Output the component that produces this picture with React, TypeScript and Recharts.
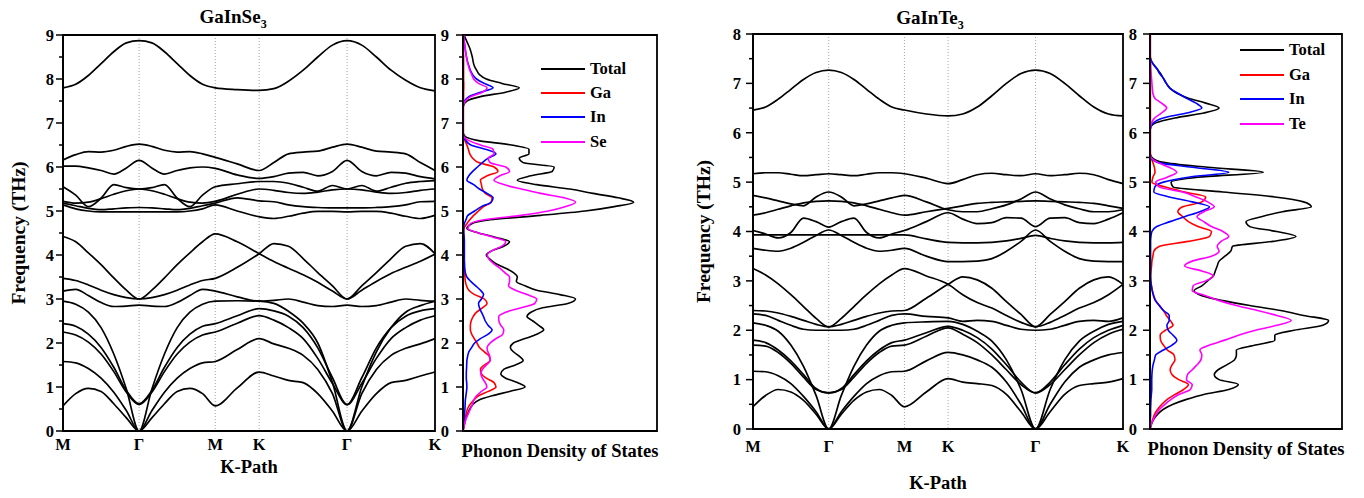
import { LineChart, Line, XAxis, YAxis, CartesianGrid, ReferenceArea, Legend } from "recharts"

const FONT = "'Liberation Serif', 'Times New Roman', serif"

// k-path samples (units of |ΓM|): M-Γ-M-K-Γ-K
const kPath = [0, 0.167, 0.333, 0.5, 0.667, 0.833, 1, 1.167, 1.333, 1.5, 1.667, 1.833, 2, 2.289, 2.577, 2.77, 2.962, 3.155, 3.347, 3.54, 3.732, 3.925, 4.117, 4.31, 4.502, 4.695, 4.887]
const kTicks = [0, 1, 2, 2.577, 3.732, 4.887]
const kLabels = ["M", "Γ", "M", "K", "Γ", "K"]

// GaInSe3 phonon branches (THz) at the kPath samples
const seBands = [
  [7.8, 7.88, 8.08, 8.35, 8.62, 8.82, 8.87, 8.82, 8.62, 8.35, 8.08, 7.88, 7.8, 7.76, 7.74, 7.78, 7.95, 8.2, 8.5, 8.77, 8.87, 8.77, 8.5, 8.2, 7.97, 7.8, 7.73],
  [6.16, 6.28, 6.35, 6.34, 6.38, 6.47, 6.52, 6.47, 6.38, 6.34, 6.35, 6.3, 6.22, 6.07, 5.92, 6.1, 6.3, 6.34, 6.36, 6.45, 6.52, 6.45, 6.36, 6.34, 6.3, 6.1, 5.92],
  [6.02, 6.02, 5.98, 5.92, 5.84, 5.98, 6.15, 5.98, 5.84, 5.92, 5.98, 6.0, 5.97, 5.82, 5.74, 5.78, 5.86, 5.88, 5.8, 5.9, 6.15, 5.9, 5.8, 5.88, 5.86, 5.78, 5.73],
  [5.55, 5.36, 5.1, 5.29, 5.6, 5.53, 5.5, 5.53, 5.6, 5.29, 5.1, 5.36, 5.55, 5.62, 5.67, 5.67, 5.63, 5.54, 5.45, 5.58, 5.5, 5.58, 5.45, 5.54, 5.63, 5.67, 5.69],
  [5.22, 5.18, 5.2, 5.28, 5.38, 5.46, 5.5, 5.46, 5.38, 5.28, 5.2, 5.18, 5.22, 5.38, 5.5, 5.47, 5.42, 5.4, 5.43, 5.48, 5.5, 5.48, 5.43, 5.4, 5.42, 5.47, 5.5],
  [5.18, 5.12, 5.06, 5.03, 5.05, 5.07, 5.08, 5.07, 5.05, 5.03, 5.06, 5.12, 5.18, 5.3, 5.23, 5.21, 5.14, 5.1, 5.08, 5.07, 5.07, 5.07, 5.08, 5.1, 5.14, 5.21, 5.22],
  [5.14, 5.05, 5.0, 4.98, 4.98, 4.98, 4.98, 4.98, 4.98, 4.98, 5.0, 5.05, 5.14, 5.0, 4.87, 4.83, 4.88, 4.95, 4.99, 4.99, 4.98, 4.99, 4.99, 4.95, 4.88, 4.83, 4.9],
  [4.42, 4.3, 4.05, 3.78, 3.48, 3.2, 3.0, 3.2, 3.48, 3.78, 4.05, 4.3, 4.48, 4.3, 4.03, 3.85, 3.7, 3.55, 3.38, 3.18, 3.0, 3.2, 3.4, 3.58, 3.72, 3.86, 4.02],
  [3.47, 3.42, 3.32, 3.2, 3.1, 3.03, 3.0, 3.03, 3.1, 3.2, 3.32, 3.42, 3.47, 3.72, 4.03, 4.26, 4.2, 3.92, 3.6, 3.3, 3.0, 3.3, 3.6, 3.92, 4.2, 4.26, 4.03],
  [3.18, 3.22, 3.08, 2.92, 2.83, 2.84, 2.86, 2.84, 2.83, 2.92, 3.08, 3.22, 3.18, 3.05, 2.95, 2.97, 3.0, 2.93, 2.85, 2.83, 2.86, 2.83, 2.85, 2.93, 3.0, 2.97, 2.95],
  [2.95, 2.88, 2.7, 2.35, 1.75, 0.95, 0, 0.95, 1.75, 2.35, 2.7, 2.88, 2.95, 2.96, 2.95, 2.9, 2.72, 2.45, 2.0, 1.1, 0, 1.0, 1.8, 2.35, 2.7, 2.85, 2.95],
  [2.44, 2.38, 2.2, 1.9, 1.45, 0.92, 0.62, 0.92, 1.45, 1.9, 2.2, 2.38, 2.44, 2.62, 2.78, 2.73, 2.61, 2.35, 1.89, 1.21, 0.6, 1.21, 1.89, 2.35, 2.61, 2.73, 2.78],
  [2.25, 2.18, 2.02, 1.75, 1.35, 0.88, 0.6, 0.88, 1.35, 1.75, 2.02, 2.18, 2.25, 2.45, 2.62, 2.52, 2.35, 2.1, 1.65, 1.08, 0.6, 1.08, 1.65, 2.1, 2.35, 2.52, 2.62],
  [1.58, 1.55, 1.42, 1.2, 0.88, 0.46, 0, 0.46, 0.88, 1.2, 1.42, 1.55, 1.58, 1.85, 2.1, 1.98, 1.88, 1.72, 1.4, 0.85, 0, 0.85, 1.4, 1.72, 1.88, 1.98, 2.1],
  [0.57, 0.85, 0.97, 0.9, 0.62, 0.3, 0, 0.3, 0.62, 0.9, 0.97, 0.85, 0.57, 0.98, 1.34, 1.25, 1.15, 1.1, 0.85, 0.45, 0, 0.45, 0.85, 1.1, 1.15, 1.25, 1.34],
]

// GaInTe3 phonon branches (THz)
const teBands = [
  [6.46, 6.52, 6.68, 6.88, 7.08, 7.22, 7.27, 7.22, 7.08, 6.88, 6.68, 6.52, 6.46, 6.38, 6.34, 6.38, 6.52, 6.75, 7.0, 7.2, 7.27, 7.2, 7.0, 6.75, 6.52, 6.38, 6.34],
  [5.17, 5.19, 5.19, 5.16, 5.13, 5.15, 5.17, 5.15, 5.13, 5.16, 5.19, 5.19, 5.17, 5.08, 4.97, 5.05, 5.15, 5.18, 5.15, 5.13, 5.17, 5.13, 5.15, 5.18, 5.15, 5.05, 4.97],
  [4.73, 4.68, 4.62, 4.56, 4.52, 4.7, 4.8, 4.7, 4.52, 4.56, 4.62, 4.68, 4.73, 4.6, 4.44, 4.4, 4.4, 4.46, 4.54, 4.66, 4.8, 4.66, 4.54, 4.46, 4.4, 4.4, 4.44],
  [4.33, 4.38, 4.45, 4.52, 4.58, 4.61, 4.62, 4.61, 4.58, 4.52, 4.45, 4.38, 4.33, 4.4, 4.47, 4.52, 4.57, 4.59, 4.6, 4.61, 4.62, 4.61, 4.6, 4.59, 4.57, 4.52, 4.47],
  [4.02, 3.95, 3.87, 3.98, 4.27, 4.2, 4.09, 4.2, 4.27, 3.98, 3.87, 3.95, 4.02, 4.2, 4.38, 4.25, 4.16, 4.18, 4.28, 4.27, 4.1, 4.27, 4.28, 4.18, 4.16, 4.25, 4.38],
  [3.66, 3.62, 3.6, 3.66, 3.78, 3.92, 4.03, 3.92, 3.78, 3.66, 3.6, 3.62, 3.66, 3.5, 3.39, 3.39, 3.4, 3.45, 3.6, 3.8, 4.03, 3.8, 3.6, 3.45, 3.4, 3.39, 3.39],
  [3.93, 3.93, 3.93, 3.93, 3.93, 3.93, 3.93, 3.93, 3.93, 3.93, 3.93, 3.93, 3.93, 3.85, 3.78, 3.77, 3.77, 3.78, 3.81, 3.86, 3.92, 3.86, 3.81, 3.78, 3.77, 3.77, 3.78],
  [3.25, 3.12, 2.94, 2.72, 2.48, 2.24, 2.07, 2.24, 2.48, 2.72, 2.94, 3.12, 3.25, 3.1, 2.93, 2.72, 2.56, 2.45, 2.3, 2.16, 2.07, 2.16, 2.3, 2.45, 2.56, 2.72, 2.93],
  [2.4, 2.39, 2.35, 2.28, 2.2, 2.12, 2.07, 2.12, 2.2, 2.28, 2.35, 2.39, 2.4, 2.65, 2.93, 3.08, 3.02, 2.85, 2.58, 2.32, 2.07, 2.32, 2.58, 2.85, 3.02, 3.08, 2.93],
  [2.33, 2.3, 2.2, 2.1, 2.02, 2.0, 2.0, 2.0, 2.02, 2.1, 2.2, 2.3, 2.33, 2.28, 2.25, 2.18, 2.2, 2.18, 2.1, 2.02, 2.0, 2.02, 2.1, 2.18, 2.2, 2.18, 2.25],
  [2.15, 2.1, 1.98, 1.7, 1.27, 0.68, 0, 0.68, 1.27, 1.7, 1.98, 2.1, 2.15, 2.17, 2.18, 2.12, 1.98, 1.78, 1.4, 0.8, 0, 0.8, 1.4, 1.78, 1.98, 2.12, 2.18],
  [1.8, 1.75, 1.6, 1.38, 1.1, 0.82, 0.73, 0.82, 1.1, 1.38, 1.6, 1.75, 1.8, 1.95, 2.08, 2.0, 1.85, 1.62, 1.3, 0.95, 0.73, 0.95, 1.3, 1.62, 1.85, 2.0, 2.1],
  [1.7, 1.68, 1.55, 1.33, 1.05, 0.8, 0.73, 0.8, 1.05, 1.33, 1.55, 1.68, 1.7, 1.88, 2.05, 1.92, 1.75, 1.5, 1.2, 0.9, 0.73, 0.9, 1.2, 1.5, 1.75, 1.92, 2.02],
  [1.17, 1.16, 1.08, 0.92, 0.66, 0.35, 0, 0.35, 0.66, 0.92, 1.08, 1.16, 1.17, 1.38, 1.55, 1.5, 1.4, 1.25, 0.95, 0.5, 0, 0.5, 0.95, 1.25, 1.4, 1.5, 1.55],
  [0.45, 0.68, 0.8, 0.75, 0.58, 0.3, 0, 0.3, 0.58, 0.75, 0.8, 0.68, 0.45, 0.75, 1.02, 0.95, 0.92, 0.88, 0.7, 0.35, 0, 0.35, 0.7, 0.88, 0.92, 0.95, 1.02],
]

// phonon DOS, GaInSe3 (arb. units), sampled every 0.1 THz
const seFreq = [
  0, 0.1, 0.2, 0.3, 0.4, 0.5, 0.6, 0.7, 0.8, 0.9,
  1, 1.1, 1.2, 1.3, 1.4, 1.5, 1.6, 1.7, 1.8, 1.9,
  2, 2.1, 2.2, 2.3, 2.4, 2.5, 2.6, 2.7, 2.8, 2.9,
  3, 3.1, 3.2, 3.3, 3.4, 3.5, 3.6, 3.7, 3.8, 3.9,
  4, 4.1, 4.2, 4.3, 4.4, 4.5, 4.6, 4.7, 4.8, 4.9,
  5, 5.1, 5.2, 5.3, 5.4, 5.5, 5.6, 5.7, 5.8, 5.9,
  6, 6.1, 6.2, 6.3, 6.4, 6.5, 6.6, 6.7, 6.8, 6.9,
  7, 7.1, 7.2, 7.3, 7.4, 7.5, 7.6, 7.7, 7.8, 7.9,
  8, 8.1, 8.2, 8.3, 8.4, 8.5, 8.6, 8.7, 8.8, 8.9,
  9,
]
const seTotal = [
  0, 0.5, 1, 1.5, 2.5, 3.5, 5, 8, 15, 24,
  32, 28, 22, 19.5, 21, 27, 31, 29, 26, 24.4,
  26, 32, 38, 41.6, 39, 36, 33, 35, 41, 54,
  58, 50, 38, 32, 27.5, 28, 26, 22, 17, 14,
  12, 15, 21, 24, 17, 8, 2, 4, 14, 40,
  63, 78, 88, 80, 67, 55, 38, 28, 35, 46,
  47, 31, 29, 34, 34, 25, 8, 1, 0, 0,
  0, 0, 0, 0, 0.3, 2, 9, 22, 29, 20,
  12, 8.5, 7, 5.8, 5.2, 4.8, 4.2, 3.5, 2.5, 1.5,
  0.5,
]
const seGa = [
  0, 0.3, 0.7, 1.2, 1.7, 2.3, 3.5, 5.5, 8, 13,
  17, 16, 12, 9.5, 9, 11, 14, 13.5, 11, 8.5,
  7.2, 5.8, 4.5, 3.8, 3.8, 4.2, 5.2, 7, 10, 12.4,
  11, 6, 3, 1.8, 1.2, 1, 0.8, 0.7, 0.6, 0.6,
  0.6, 0.6, 0.6, 0.6, 0.5, 0.3, 0.5, 1.8, 3.5, 5.5,
  8, 10.6, 14.5, 15, 11.5, 10, 9.5, 9, 12.5, 18,
  16, 8, 5, 3.5, 2.8, 2, 1, 0.3, 0.2, 0.2,
  0.2, 0.2, 0.2, 0.2, 0.2, 0.3, 0.3, 0.3, 0.4, 0.4,
  0.3, 0.3, 0.3, 0.3, 0.3, 0.3, 0.2, 0.2, 0.2, 0.2,
  0.2,
]
const seIn = [
  0, 0.2, 0.4, 0.6, 0.8, 1, 1.1, 1.2, 1.5, 1.8,
  2, 1.9, 1.7, 1.7, 1.8, 1.9, 2, 2.4, 3, 4.5,
  6, 9, 13, 15, 13, 11.5, 10.6, 9.5, 8.5, 8,
  9.5, 10.6, 9, 6.5, 4, 2, 1.2, 0.9, 0.8, 0.7,
  0.7, 0.7, 0.7, 0.7, 0.6, 0.4, 0.3, 0.6, 1.5, 2.5,
  6, 9.5, 14.5, 15.5, 12.4, 8.5, 5.5, 2, 3, 5,
  7.5, 10, 13, 17, 12, 4, 1.5, 0.3, 0, 0,
  0, 0, 0, 0, 0, 0.8, 3, 9, 15.5, 11,
  7, 5, 3.8, 3, 2.3, 1.8, 1.4, 1.1, 0.8, 0.5,
  0.3,
]
const seSe = [
  0, 0.5, 1, 1.8, 2.8, 3.8, 4.8, 5.5, 7, 9.5,
  12.3, 11.5, 10, 9.2, 10, 12, 14, 13.8, 12.8, 12.4,
  14, 17, 20.5, 21, 19.5, 18.5, 18.4, 22, 30, 37,
  38, 33, 27, 23.5, 24, 24, 21.5, 19, 16, 13.5,
  12.5, 15, 20, 22, 16, 8, 2.5, 3.5, 11, 30,
  44, 53, 58, 52, 40, 30, 21, 16, 19, 24,
  22, 14, 13, 16, 15.5, 9, 3, 0.3, 0, 0,
  0, 0, 0, 0, 0.2, 1.2, 4, 10, 12.4, 8,
  5.5, 4.5, 3.5, 2.8, 2.2, 1.8, 1.4, 1.1, 0.8, 0.5,
  0.3,
]

// phonon DOS, GaInTe3
const teFreq = [
  0, 0.1, 0.2, 0.3, 0.4, 0.5, 0.6, 0.7, 0.8, 0.9,
  1, 1.1, 1.2, 1.3, 1.4, 1.5, 1.6, 1.7, 1.8, 1.9,
  2, 2.1, 2.2, 2.3, 2.4, 2.5, 2.6, 2.7, 2.8, 2.9,
  3, 3.1, 3.2, 3.3, 3.4, 3.5, 3.6, 3.7, 3.8, 3.9,
  4, 4.1, 4.2, 4.3, 4.4, 4.5, 4.6, 4.7, 4.8, 4.9,
  5, 5.1, 5.2, 5.3, 5.4, 5.5, 5.6, 5.7, 5.8, 5.9,
  6, 6.1, 6.2, 6.3, 6.4, 6.5, 6.6, 6.7, 6.8, 6.9,
  7, 7.1, 7.2, 7.3, 7.4, 7.5, 7.6, 7.7, 7.8, 7.9,
  8,
]
const teTotal = [
  0, 0.8, 2, 4, 7, 12, 19, 28, 41, 46,
  36, 33.5, 35.5, 40, 44, 45, 45, 55, 65, 65,
  75, 90, 93, 80, 68, 52, 38, 27, 23, 27,
  30, 33, 34, 35, 36, 39, 42, 43, 64, 76,
  66, 52, 50, 58, 69, 84, 80, 65, 38, 12,
  11, 25, 59, 30, 7, 1, 0, 0, 0, 0,
  0, 0.2, 3, 13, 28, 36, 29, 20, 14, 10.5,
  8.5, 7, 5.5, 3.5, 1.5, 0.3, 0, 0, 0, 0,
  0,
]
const teGa = [
  0, 0.7, 1.5, 2.4, 4, 6.2, 9, 13, 17.5, 20,
  15, 11.5, 10.5, 11.5, 13, 12.5, 9, 7, 5.5, 5.3,
  8, 12, 10.5, 8.5, 7, 5, 3, 2, 1.2, 0.8,
  0.4, 0.3, 0.5, 0.8, 1, 1.5, 2, 5, 20, 31,
  32, 25, 20, 17, 14.5, 17, 27, 29, 18, 8,
  1, 1.5, 2.6, 2.3, 1.5, 0.5, 0.2, 0.2, 0.2, 0.2,
  0.2, 0.2, 0.2, 0.2, 0.2, 0.2, 0.2, 0.2, 0.2, 0.2,
  0.2, 0.2, 0.2, 0.2, 0.2, 0.2, 0.2, 0.2, 0.2, 0.2,
  0.2,
]
const teIn = [
  0, 0.1, 0.2, 0.3, 0.3, 0.4, 0.5, 0.7, 0.9, 0.9,
  0.9, 1, 1.2, 1.6, 2.3, 3, 7, 11.5, 14, 12,
  9.5, 8.8, 10, 10, 7, 4.8, 2.8, 1.8, 1.2, 0.7,
  0.4, 0.3, 0.3, 0.3, 0.3, 0.3, 0.3, 0.3, 0.3, 0.5,
  1, 3.5, 10.4, 18, 26, 31, 22, 10, 2, 2.5,
  7, 20, 41, 22, 4, 0.5, 0, 0, 0, 0,
  0, 0.3, 1.7, 6.9, 19, 27, 24, 19, 14.5, 10.4,
  8.5, 7, 5, 3.6, 1.5, 0.2, 0, 0, 0, 0,
  0,
]
const teTe = [
  0, 0.7, 1.8, 3.2, 5, 7.8, 11, 15, 21, 22,
  19, 19.5, 22, 24.5, 26.5, 27, 26, 31, 39, 46,
  55, 66, 73.5, 66, 56, 45, 36, 29, 22, 22.5,
  29, 33, 27, 18, 22, 32, 36, 35, 37, 41,
  38, 32, 28, 24.5, 28, 33.5, 30, 24, 17, 5,
  3, 9, 13.9, 10, 4, 0.5, 0, 0, 0, 0,
  0, 0.2, 0.8, 2.5, 6, 8.7, 6, 2.5, 1.5, 1.2,
  1, 0.8, 0.6, 0.4, 0.3, 0.1, 0, 0, 0, 0,
  0,
]

const seYTicks = [0, 0.5, 1, 1.5, 2, 2.5, 3, 3.5, 4, 4.5, 5, 5.5, 6, 6.5, 7, 7.5, 8, 8.5, 9]
const teYTicks = [0, 0.5, 1, 1.5, 2, 2.5, 3, 3.5, 4, 4.5, 5, 5.5, 6, 6.5, 7, 7.5, 8]

const dosKeys = ["total", "ga", "in", "el"]
const dosColors = ["#000000", "#ff0000", "#0000ff", "#ff00ff"]
const seLegend = ["Total", "Ga", "In", "Se"]
const teLegend = ["Total", "Ga", "In", "Te"]

const boldText = { fontFamily: FONT, fontWeight: "bold" as const, fill: "#000" }

const FreqTick = (props: any) => {
  const { x, y, payload, gap } = props
  const major = Number.isInteger(payload.value)
  return (
    <g>
      <line x1={x - (major ? 7 : 4)} x2={x} y1={y} y2={y} stroke="#000" strokeWidth={1.5} />
      {major && (
        <text x={x - gap} y={y} dy="0.35em" textAnchor="end" fontSize={16.5} {...boldText}>
          {payload.value}
        </text>
      )}
    </g>
  )
}

const PathTick = (props: any) => {
  const { x, y, index, dy } = props
  return (
    <text x={x} y={y + dy} dy="0.35em" textAnchor="middle" fontSize={16.5} {...boldText}>
      {kLabels[index]}
    </text>
  )
}

const Title = ({ text, cx, cy }: { text: string; cx: number; cy: number }) => (
  <div
    style={{
      position: "absolute", left: cx - 100, top: cy - 12, width: 200, height: 24, lineHeight: "24px",
      textAlign: "center", fontFamily: FONT, fontWeight: "bold", fontSize: 19, color: "#000",
    }}
  >
    {text}
    <span style={{ fontSize: 12, position: "relative", top: 5 }}>3</span>
  </div>
)

function BandPanel(props: any) {
  const { left, bands, yMax, yTicks, mTop, mRight, xAxisHeight, tickGap, pathDy, pathLabelOffset, freqLabelOffset } = props
  const rows = kPath.map((k, i) => {
    const r: Record<string, number> = { k }
    bands.forEach((b: number[], j: number) => { r["b" + j] = b[i] })
    return r
  })
  return (
    <div style={{ position: "absolute", left, top: 0 }}>
      <LineChart width={450} height={498} data={rows} margin={{ top: mTop, right: mRight, bottom: 0, left: 0 }}>
        <CartesianGrid horizontal={false} stroke="#8c8c8c" strokeDasharray="1 2" strokeWidth={0.8} />
        <XAxis
          dataKey="k" type="number" domain={[0, 4.887]} ticks={kTicks} interval={0}
          height={xAxisHeight} tickSize={0} tickMargin={0} tickLine={false}
          axisLine={{ stroke: "#000", strokeWidth: 1.8 }}
          tick={(p: any) => <PathTick {...p} dy={pathDy} />}
          label={{ value: "K-Path", position: "insideTop", offset: pathLabelOffset, fontSize: 18.5, ...boldText }}
        />
        <YAxis
          type="number" domain={[0, yMax]} ticks={yTicks} interval={0} width={63}
          tickSize={0} tickMargin={0} tickLine={false}
          axisLine={{ stroke: "#000", strokeWidth: 1.8 }}
          tick={(p: any) => <FreqTick {...p} gap={tickGap} />}
          label={{
            value: "Frequency (THz)", angle: -90, position: "insideLeft", offset: freqLabelOffset,
            fontSize: 19.5, style: { textAnchor: "middle" }, ...boldText,
          }}
        />
        <ReferenceArea x1={0} x2={4.887} y1={0} y2={yMax} fill="none" stroke="#000" strokeWidth={1.8} />
        {bands.map((_: number[], j: number) => (
          <Line
            key={j} dataKey={"b" + j} type="monotone" stroke="#000" strokeWidth={1.7}
            dot={false} activeDot={false} isAnimationActive={false}
          />
        ))}
      </LineChart>
    </div>
  )
}

function DosPanel(props: any) {
  const { left, freq, series, legend, yMax, yTicks, mTop, mRight, yAxisWidth, xAxisHeight, tickGap, labelOffset, legendLeft, legendTop, rowH } = props
  const rows = freq.map((f: number, i: number) => {
    const r: Record<string, number> = { f }
    series.forEach((s: number[], j: number) => { r[dosKeys[j]] = s[i] })
    return r
  })
  return (
    <div style={{ position: "absolute", left, top: 0 }}>
      <LineChart layout="vertical" width={270} height={498} data={rows} margin={{ top: mTop, right: mRight, bottom: 0, left: 0 }}>
        <XAxis
          type="number" domain={[0, 100]} height={xAxisHeight} tick={false} tickLine={false} axisLine={false}
          label={{ value: "Phonon Density of States", position: "insideTop", offset: labelOffset, fontSize: 18.5, ...boldText }}
        />
        <YAxis
          dataKey="f" type="number" domain={[0, yMax]} reversed ticks={yTicks} interval={0} width={yAxisWidth}
          tickSize={0} tickMargin={0} tickLine={false}
          axisLine={{ stroke: "#000", strokeWidth: 1.8 }}
          tick={(p: any) => <FreqTick {...p} gap={tickGap} />}
        />
        <ReferenceArea x1={0} x2={100} y1={0} y2={yMax} fill="none" stroke="#000" strokeWidth={1.8} />
        {dosKeys.map((key, j) => (
          <Line
            key={key} dataKey={key} type="monotone" stroke={dosColors[j]} strokeWidth={1.6}
            dot={false} activeDot={false} isAnimationActive={false}
          />
        ))}
        <Legend
          layout="vertical" align="center" verticalAlign="middle"
          wrapperStyle={{ left: legendLeft, top: legendTop, width: 110 }}
          content={() => (
            <div>
              {legend.map((name: string, j: number) => (
                <div key={name} style={{ display: "flex", alignItems: "center", height: rowH }}>
                  <span style={{ display: "inline-block", width: 44, borderTop: `2px solid ${dosColors[j]}`, marginRight: 5 }} />
                  <span style={{ fontFamily: FONT, fontWeight: "bold", fontSize: 16.5, color: "#000" }}>{name}</span>
                </div>
              ))}
            </div>
          )}
        />
      </LineChart>
    </div>
  )
}

export default function App() {
  return (
    <div style={{ position: "fixed", left: 0, top: 0, width: 1364, height: 498, background: "#fff", overflow: "hidden" }}>
      <Title text="GaInSe" cx={233} cy={17} />
      <Title text="GaInTe" cx={930} cy={18} />
      <BandPanel
        left={0} bands={seBands} yMax={9} yTicks={seYTicks} mTop={35} mRight={15} xAxisHeight={67}
        tickGap={9} pathDy={13} pathLabelOffset={29} freqLabelOffset={18}
      />
      <DosPanel
        left={400} freq={seFreq} series={[seTotal, seGa, seIn, seSe]} legend={seLegend}
        yMax={9} yTicks={seYTicks} mTop={35} mRight={13} yAxisWidth={63} xAxisHeight={67}
        tickGap={14} labelOffset={13} legendLeft={141} legendTop={57} rowH={24.2}
      />
      <BandPanel
        left={690} bands={teBands} yMax={8} yTicks={teYTicks} mTop={34} mRight={17} xAxisHeight={69}
        tickGap={12} pathDy={17} pathLabelOffset={47} freqLabelOffset={13}
      />
      <DosPanel
        left={1090} freq={teFreq} series={[teTotal, teGa, teIn, teTe]} legend={teLegend}
        yMax={8} yTicks={teYTicks} mTop={34} mRight={18} yAxisWidth={60} xAxisHeight={69}
        tickGap={13} labelOffset={13} legendLeft={150} legendTop={38} rowH={24.6}
      />
    </div>
  )
}
